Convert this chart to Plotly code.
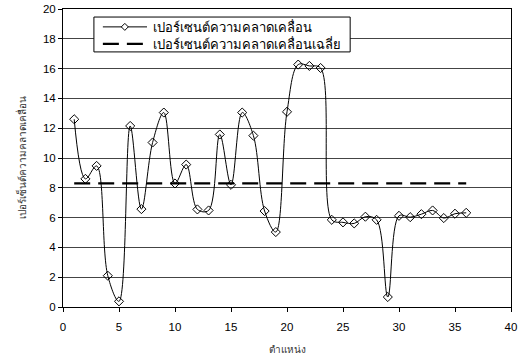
import plotly.graph_objects as go

# Position index along the measurement line
positions = list(range(1, 37))
# Percentage error at each position
error_pct = [12.6, 8.6, 9.47, 2.1, 0.38, 12.15, 6.57, 11.04, 13.05, 8.29,
             9.56, 6.55, 6.48, 11.58, 8.2, 13.05, 11.5, 6.44, 5.03, 13.1,
             16.27, 16.18, 16.04, 5.85, 5.68, 5.61, 6.06, 5.85, 0.67, 6.12,
             6.03, 6.23, 6.48, 5.97, 6.26, 6.32]
mean_error = 8.3

x_ticks = [0, 5, 10, 15, 20, 25, 30, 35, 40]
y_ticks = [0, 2, 4, 6, 8, 10, 12, 14, 16, 18, 20]

series_name = "เปอร์เซนต์ความคลาดเคลื่อน"
mean_name = "เปอร์เซนต์ความคลาดเคลื่อนเฉลี่ย"
x_title = "ตำแหน่ง"
y_title = "เปอร์เซ็นต์ความคลาดเคลื่อน"

fig = go.Figure()
fig.add_trace(go.Scatter(
    x=positions, y=error_pct, name=series_name,
    mode="lines+markers",
    line=dict(color="black", width=1, shape="spline", smoothing=1),
    marker=dict(symbol="diamond-open", size=7, color="black", line=dict(width=1)),
))
fig.add_trace(go.Scatter(
    x=[positions[0], positions[-1]], y=[mean_error, mean_error], name=mean_name,
    mode="lines",
    line=dict(color="black", width=2.2, dash="16px,8px"),
))

# Compact boxed legend drawn in paper coordinates
box = dict(x0=0.069, x1=0.641, y0=0.856, y1=0.973)
rows = [0.940, 0.883]
sample_x = (0.089, 0.1875)
marker_x = 0.138
text_x = 0.196

shapes = [
    dict(type="rect", xref="paper", yref="paper", layer="above",
         fillcolor="white", line=dict(color="black", width=1), **box),
    dict(type="line", xref="paper", yref="paper", layer="above",
         x0=sample_x[0], x1=sample_x[1], y0=rows[0], y1=rows[0],
         line=dict(color="black", width=1)),
    dict(type="path", xref="paper", yref="paper", layer="above",
         xsizemode="pixel", ysizemode="pixel", xanchor=marker_x, yanchor=rows[0],
         path="M -3.5,0 L 0,3.5 L 3.5,0 L 0,-3.5 Z",
         fillcolor="white", line=dict(color="black", width=1)),
    dict(type="line", xref="paper", yref="paper", layer="above",
         x0=sample_x[0], x1=sample_x[1], y0=rows[1], y1=rows[1],
         line=dict(color="black", width=2.2, dash="16px,8px")),
]
annotations = [
    dict(text=name, xref="paper", yref="paper", x=text_x, y=y,
         xanchor="left", yanchor="middle", showarrow=False,
         font=dict(size=13, color="black"))
    for name, y in zip([series_name, mean_name], rows)
]

fig.update_layout(
    width=523, height=355,
    margin=dict(l=63, r=12, t=9, b=48),
    paper_bgcolor="white", plot_bgcolor="white",
    font=dict(family="Arial, Liberation Sans, sans-serif", color="black", size=11),
    showlegend=False,
    shapes=shapes,
    annotations=annotations,
)
fig.update_xaxes(
    range=[0, 40], tickvals=x_ticks, showgrid=False, automargin=False,
    showline=True, linecolor="black", linewidth=1, mirror=True,
    ticks="outside", ticklen=4, tickcolor="black", ticklabelstandoff=5,
    tickfont=dict(size=11.5),
    title=dict(text=x_title, font=dict(size=10, color="#333",
                                        family="Liberation Serif, serif"), standoff=18),
    zeroline=False,
)
fig.update_yaxes(
    range=[0, 20], tickvals=y_ticks, showgrid=True, gridcolor="#444", gridwidth=1,
    automargin=False,
    showline=True, linecolor="black", linewidth=1, mirror=True,
    ticks="outside", ticklen=4, tickcolor="black",
    tickfont=dict(size=11.5),
    title=dict(text=y_title, font=dict(size=10, color="#333",
                                        family="Liberation Serif, serif"), standoff=14),
    zeroline=False,
)

fig.write_html("out.html")
